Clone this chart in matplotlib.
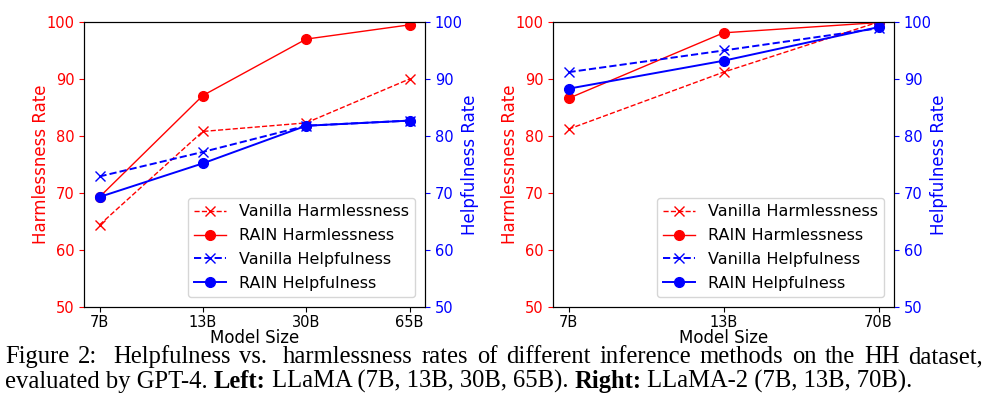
import matplotlib
matplotlib.use("Agg")
import matplotlib.pyplot as plt

# Left: LLaMA
left_sizes = ["7B", "13B", "30B", "65B"]
left_vanilla_harm = [64.4, 80.8, 82.3, 90.0]
left_rain_harm = [69.3, 87.1, 97.0, 99.5]
left_vanilla_help = [72.9, 77.2, 81.8, 82.7]
left_rain_help = [69.3, 75.2, 81.8, 82.7]

# Right: LLaMA-2
right_sizes = ["7B", "13B", "70B"]
right_vanilla_harm = [81.2, 91.2, 100.0]
right_rain_harm = [86.6, 98.1, 99.9]
right_vanilla_help = [91.2, 95.0, 98.9]
right_rain_help = [88.3, 93.2, 99.1]

caption_line1 = "Figure 2:  Helpfulness vs.  harmlessness rates of different inference methods on the HH dataset,"
caption_line2 = [("evaluated by GPT-4. ", "normal"), ("Left:", "bold"),
                 (" LLaMA (7B, 13B, 30B, 65B). ", "normal"), ("Right:", "bold"),
                 (" LLaMA-2 (7B, 13B, 70B).", "normal")]

W, H = 990, 398
fig = plt.figure(figsize=(W / 100, H / 100), dpi=100)

TFS = 10.5   # tick labels
LFS = 12     # axis labels
GFS = 11.5   # legend


def panel(rect, sizes, vh, rh, vp, rp):
    ax = fig.add_axes(rect)
    x = list(range(len(sizes)))
    l1, = ax.plot(x, vh, color="red", linestyle="--", marker="x", lw=1.0, ms=7,
                  label="Vanilla Harmlessness")
    l2, = ax.plot(x, rh, color="red", linestyle="-", marker="o", lw=1.0, ms=7,
                  label="RAIN Harmlessness")
    ax.set_ylim(50, 100)
    ax.set_xticks(x)
    ax.set_xticklabels(sizes, fontsize=TFS)
    ax.set_xlabel("Model Size", fontsize=LFS, labelpad=-1)
    ax.set_ylabel("Harmlessness Rate", color="red", fontsize=LFS, labelpad=-2.5)
    ax.tick_params(axis="y", colors="red", labelsize=TFS)
    ax.tick_params(axis="x", labelsize=TFS, pad=2.5)
    ax2 = ax.twinx()
    l3, = ax2.plot(x, vp, color="blue", linestyle="--", marker="x", lw=1.4, ms=7,
                   label="Vanilla Helpfulness")
    l4, = ax2.plot(x, rp, color="blue", linestyle="-", marker="o", lw=1.4, ms=7,
                   label="RAIN Helpfulness")
    ax2.set_ylim(50, 100)
    ax2.set_ylabel("Helpfulness Rate", color="blue", fontsize=LFS, labelpad=-1.5)
    ax2.tick_params(axis="y", colors="blue", labelsize=TFS)
    ax2.legend(handles=[l1, l2, l3, l4], loc="lower right", fontsize=GFS,
               borderaxespad=0.6, labelspacing=0.56)
    return ax, ax2


aw = 341 / W
ah = 285 / H
ab = (H - 307) / H
panel([84 / W, ab, aw, ah], left_sizes, left_vanilla_harm, left_rain_harm,
      left_vanilla_help, left_rain_help)
panel([553 / W, ab, aw, ah], right_sizes, right_vanilla_harm, right_rain_harm,
      right_vanilla_help, right_rain_help)

cap_fs = 17.7
cap_font = "Liberation Serif"
fig.canvas.draw()
renderer = fig.canvas.get_renderer()

# line 1: justified between x=5 and x=983 (sentence gaps wider)
y1 = 1 - 363 / H
words = caption_line1.split()
widths = []
for w_ in words:
    t = fig.text(0, 0, w_, fontsize=cap_fs, family=cap_font)
    widths.append(t.get_window_extent(renderer=renderer).width)
    t.remove()
weights = [1.8 if w_.endswith((":", ".")) else 1.0 for w_ in words[:-1]]
x0, x1 = 5, 983
unit = (x1 - x0 - sum(widths)) / sum(weights)
xp = x0
for i, (w_, wd) in enumerate(zip(words, widths)):
    fig.text(xp / W, y1, w_, fontsize=cap_fs, family=cap_font, ha="left",
             va="baseline")
    if i < len(weights):
        xp += wd + unit * weights[i]

# line 2: natural width with bold parts
y2 = 1 - 388 / H
xpos = 5
for txt, wt in caption_line2:
    t = fig.text(xpos / W, y2, txt, fontsize=cap_fs, family=cap_font, weight=wt,
                 ha="left", va="baseline")
    xpos += t.get_window_extent(renderer=renderer).width

fig.savefig("out.png", dpi=100)
